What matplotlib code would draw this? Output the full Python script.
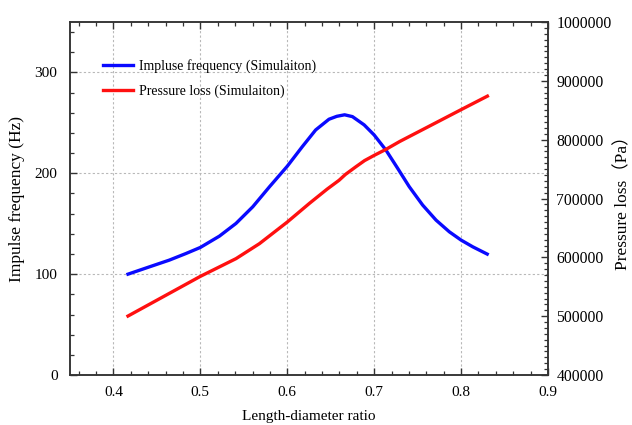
import numpy as np
import matplotlib
matplotlib.use('Agg')
import matplotlib.pyplot as plt
from matplotlib.ticker import MultipleLocator, FormatStrFormatter

ratio_frec = [0.4167, 0.4412, 0.4642, 0.4835, 0.5, 0.5219, 0.541, 0.5603, 0.5796, 0.6, 0.6173,
              0.6327, 0.648, 0.657, 0.666, 0.675, 0.6885, 0.7, 0.7135, 0.727, 0.7404, 0.7558,
              0.7712, 0.7865, 0.8, 0.8135, 0.8301]
frecuencia = [100, 107.2, 113.9, 120.5, 126.5, 137.7, 150.3, 166.8, 186.7, 207, 226.4,
              243, 253.6, 256.5, 258, 256.2, 248, 238, 223.1, 205, 186.7, 168.5,
              153.6, 142, 133.8, 127.1, 119.9]

ratio_pres = [0.4167, 0.4532, 0.5, 0.541, 0.568, 0.6, 0.6257, 0.6459, 0.6596, 0.667, 0.679,
              0.689, 0.7, 0.7135, 0.7295, 0.7635, 0.8, 0.8303]
presion = [500250, 529800, 567700, 597800, 623300, 660000, 692000, 716000, 731000, 741000, 754000,
           764500, 773300, 783500, 797000, 823000, 851000, 874000]

etiqueta_frec = 'Impluse frequency (Simulaiton)'
etiqueta_pres = 'Pressure loss (Simulaiton)'

plt.rcParams['font.family'] = ['Liberation Serif', 'Noto Sans CJK SC']

fig = plt.figure(figsize=(6.32, 4.25), dpi=100)
ax1 = fig.add_axes([0.1108, 0.1176, 0.7562, 0.8306])
ax2 = ax1.twinx()

l1, = ax1.plot(ratio_frec, frecuencia, color='#0a0aff', lw=2.4, solid_joinstyle='round')
l2, = ax2.plot(ratio_pres, presion, color='#ff1010', lw=2.4, solid_joinstyle='round')

ax1.set_xlim(0.35, 0.9)
ax1.set_ylim(0, 350)
ax2.set_ylim(400000, 1000000)

ax1.xaxis.set_major_locator(MultipleLocator(0.1))
ax1.xaxis.set_minor_locator(MultipleLocator(0.02))
ax1.yaxis.set_major_locator(MultipleLocator(100))
ax1.yaxis.set_minor_locator(MultipleLocator(20))
ax2.yaxis.set_major_locator(MultipleLocator(100000))
ax2.yaxis.set_minor_locator(MultipleLocator(10000))
ax1.xaxis.set_major_formatter(FormatStrFormatter('%g'))
ax2.yaxis.set_major_formatter(FormatStrFormatter('%d'))

ax1.grid(True, which='major', color='#b8b8b8', linestyle=(0, (2, 2)), lw=0.8)
ax1.set_axisbelow(True)

color_eje = '#333333'
for a in (ax1, ax2):
    for s in a.spines.values():
        s.set_color(color_eje)
        s.set_linewidth(1.1)

ax1.tick_params(axis='both', which='major', direction='in', length=5, width=1.0,
                color=color_eje, labelsize=11, top=True, right=False)
ax1.tick_params(axis='both', which='minor', direction='in', length=3, width=0.9,
                color=color_eje, top=True, right=False)
ax1.tick_params(axis='y', pad=9)
ax1.tick_params(axis='x', pad=8)
ax2.tick_params(axis='y', which='major', direction='in', length=5, width=1.0,
                color=color_eje, labelsize=11.3, pad=6)
ax2.tick_params(axis='y', which='minor', direction='in', length=3, width=0.9, color=color_eje)

ax1.set_xlabel('Length-diameter ratio', fontsize=11, labelpad=8)
ax1.set_ylabel('Impulse frequency (Hz)', fontsize=12.5, labelpad=7)
ax2.set_ylabel('Pressure loss（Pa）', fontsize=12.5, labelpad=2)

ax2.legend([l1, l2], [etiqueta_frec, etiqueta_pres], loc='upper left',
           bbox_to_anchor=(0.043, 0.93), frameon=False, fontsize=10,
           handlelength=2.15, handletextpad=0.45, labelspacing=0.85)

fig.savefig('out.png', dpi=100)
